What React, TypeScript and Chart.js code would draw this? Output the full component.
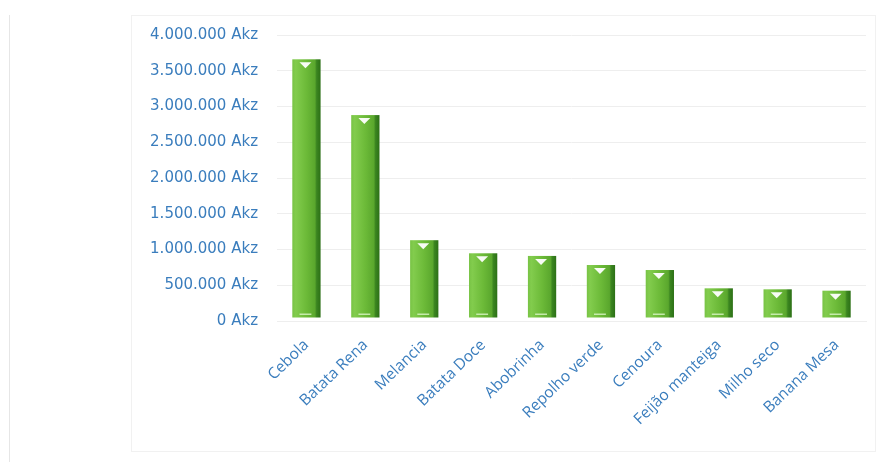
import React, { useEffect, useRef } from "react";
import { Chart, registerables } from "chart.js";

Chart.register(...registerables);

const categories = [
  "Cebola",
  "Batata Rena",
  "Melancia",
  "Batata Doce",
  "Abobrinha",
  "Repolho verde",
  "Cenoura",
  "Feijão manteiga",
  "Milho seco",
  "Banana Mesa",
];

const values = [3660000, 2880000, 1130000, 947000, 910000, 783000, 713000, 457000, 443000, 424000];

const yTicks = [0, 500000, 1000000, 1500000, 2000000, 2500000, 3000000, 3500000, 4000000];
const currency = "Akz";

const fmt = (v: number) =>
  String(Math.round(v)).replace(/\B(?=(\d{3})+(?!\d))/g, ".") + " " + currency;

const labelColor = "#3a7dbd";

const framePlugin = {
  id: "frame",
  beforeDraw(chart: any) {
    const ctx = chart.ctx;
    ctx.save();
    ctx.fillStyle = "#ffffff";
    ctx.fillRect(0, 0, chart.width, chart.height);
    ctx.strokeStyle = "#e6e6e6";
    ctx.lineWidth = 1;
    ctx.beginPath();
    ctx.moveTo(9.5, 15);
    ctx.lineTo(9.5, 462);
    ctx.stroke();
    ctx.strokeStyle = "#f1f1f1";
    ctx.strokeRect(131.5, 15.5, 744, 436);
    ctx.restore();
  },
};

const barStylePlugin = {
  id: "barStyle",
  afterDatasetsDraw(chart: any) {
    const ctx = chart.ctx;
    const meta = chart.getDatasetMeta(0);
    ctx.save();
    meta.data.forEach((bar: any) => {
      const { x, y, base, width } = bar.getProps(["x", "y", "base", "width"], true);
      const left = x - width / 2;
      const h = base - y;
      const g = ctx.createLinearGradient(left, 0, left + width, 0);
      g.addColorStop(0, "#78c345");
      g.addColorStop(0.12, "#82cc4d");
      g.addColorStop(0.5, "#6cba38");
      g.addColorStop(0.8, "#5aa72d");
      g.addColorStop(0.86, "#3b8520");
      g.addColorStop(1, "#2c7016");
      ctx.fillStyle = g;
      ctx.fillRect(left, y, width, h - 3);
      const tw = width * 0.42;
      ctx.fillStyle = "rgba(255,255,255,0.95)";
      ctx.beginPath();
      ctx.moveTo(x - tw / 2 - 1, y + 3);
      ctx.lineTo(x + tw / 2 - 1, y + 3);
      ctx.lineTo(x - 1, y + 9);
      ctx.closePath();
      ctx.fill();
      ctx.fillStyle = "rgba(220,245,200,0.8)";
      ctx.fillRect(x - tw / 2 - 1, base - 7, tw, 1.5);
    });
    ctx.restore();
  },
};

export default function App() {
  const ref = useRef<HTMLCanvasElement | null>(null);

  useEffect(() => {
    if (!ref.current) return;
    const chart = new Chart(ref.current, {
      type: "bar",
      data: {
        labels: categories,
        datasets: [
          {
            data: values,
            backgroundColor: "rgba(0,0,0,0)",
            borderWidth: 0,
            barPercentage: 0.48,
            categoryPercentage: 1,
          },
        ],
      },
      options: {
        responsive: false,
        animation: false,
        layout: { padding: { left: 130, right: 12, top: 35, bottom: 0 } },
        plugins: {
          legend: { display: false },
          tooltip: { enabled: false },
        },
        scales: {
          x: {
            grid: { display: false, drawTicks: false },
            border: { display: true, color: "#eeeeee" },
            ticks: {
              color: labelColor,
              font: { family: "'Open Sans', sans-serif", size: 15.5 },
              minRotation: 44,
              maxRotation: 44,
              padding: 15,
              labelOffset: 0,
              autoSkip: false,
            },
            afterFit: (axis: any) => {
              axis.height = 143;
            },
          },
          y: {
            min: 0,
            max: 4000000,
            afterBuildTicks: (axis: any) => {
              axis.ticks = yTicks.map((v) => ({ value: v }));
            },
            grid: { color: "#eeeeee", drawTicks: false },
            border: { display: false },
            ticks: {
              color: labelColor,
              font: { family: "'DejaVu Sans', sans-serif", size: 15 },
              padding: 19,
              callback: (v: any) => fmt(Number(v)),
            },
            afterFit: (axis: any) => {
              axis.width = 147;
            },
          },
        },
      },
      plugins: [framePlugin, barStylePlugin],
    });
    return () => chart.destroy();
  }, []);

  return (
    <div style={{ position: "absolute", left: 0, top: 0, width: 878, height: 464 }}>
      <canvas ref={ref} width={878} height={464} style={{ display: "block" }} />
    </div>
  );
}
